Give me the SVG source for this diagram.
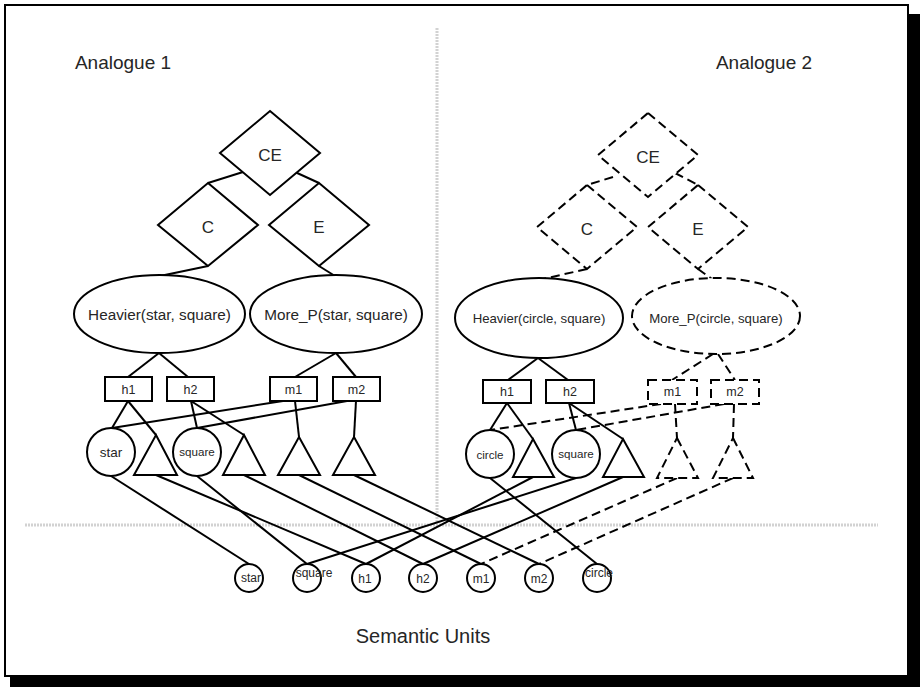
<svg xmlns="http://www.w3.org/2000/svg" width="920" height="687" viewBox="0 0 920 687">
  <style>
    .ln { fill: none; stroke: #000; stroke-width: 2; }
    .sh { fill: #fff; stroke: #000; stroke-width: 2; }
    .dash { stroke-dasharray: 9 5; }
    .sep { stroke: #d2d2d2; stroke-width: 3; stroke-dasharray: 2 1; fill: none; }
    text { font-family: "Liberation Sans", Arial, sans-serif; fill: #262626; text-anchor: middle; }
    .title { font-size: 19px; }
    .dia { font-size: 17px; }
    .rel { font-size: 15.3px; }
    .rel2 { font-size: 13.2px; }
    .box { font-size: 12.5px; }
    .obj { font-size: 13.5px; }
    .objs { font-size: 11.6px; }
    .unit { font-size: 12px; }
  </style>

  <!-- frame with drop shadow -->
  <rect x="10" y="14" width="910" height="673" fill="#000"/>
  <rect x="5" y="5" width="903" height="671" fill="#fff" stroke="#000" stroke-width="2"/>

  <!-- region separators -->
  <line class="sep" x1="437" y1="28" x2="437" y2="522"/>
  <line class="sep" x1="25" y1="525" x2="878" y2="525"/>

  <text class="title" x="123" y="69">Analogue 1</text>
  <text class="title" x="764" y="69">Analogue 2</text>
  <text class="title" x="423" y="643" style="font-size:20px">Semantic Units</text>

  <g id="connectors">
    <!-- analogue 1 -->
    <line class="ln" x1="243" y1="172" x2="208" y2="183"/>
    <line class="ln" x1="295" y1="172" x2="319" y2="183"/>
    <line class="ln" x1="208" y1="266" x2="160" y2="276"/>
    <line class="ln" x1="319" y1="266" x2="335" y2="276"/>
    <line class="ln" x1="159" y1="353" x2="128" y2="377"/>
    <line class="ln" x1="159" y1="353" x2="188" y2="377"/>
    <line class="ln" x1="336" y1="353" x2="295" y2="377"/>
    <line class="ln" x1="336" y1="353" x2="356" y2="377"/>
    <line class="ln" x1="128" y1="401" x2="112" y2="428"/>
    <line class="ln" x1="128" y1="401" x2="156" y2="435"/>
    <line class="ln" x1="191" y1="401" x2="197" y2="428"/>
    <line class="ln" x1="191" y1="401" x2="244" y2="435"/>
    <line class="ln" x1="283" y1="401" x2="112" y2="428"/>
    <line class="ln" x1="295" y1="401" x2="299" y2="437"/>
    <line class="ln" x1="347" y1="401" x2="197" y2="428"/>
    <line class="ln" x1="356" y1="401" x2="354" y2="437"/>
    <!-- analogue 2 -->
    <line class="ln dash" x1="613" y1="177" x2="587" y2="185"/>
    <line class="ln dash" x1="675" y1="173" x2="698" y2="185"/>
    <line class="ln dash" x1="587" y1="269" x2="543" y2="279"/>
    <line class="ln dash" x1="698" y1="269" x2="712" y2="279"/>
    <line class="ln" x1="538" y1="358" x2="508" y2="380"/>
    <line class="ln" x1="538" y1="358" x2="568" y2="380"/>
    <line class="ln dash" x1="713" y1="354" x2="672" y2="380"/>
    <line class="ln dash" x1="718" y1="354" x2="735" y2="380"/>
    <line class="ln" x1="507" y1="403" x2="490" y2="430"/>
    <line class="ln" x1="507" y1="403" x2="533" y2="439"/>
    <line class="ln" x1="569" y1="403" x2="576" y2="430"/>
    <line class="ln" x1="569" y1="403" x2="623" y2="439"/>
    <line class="ln dash" x1="661" y1="404" x2="490" y2="430"/>
    <line class="ln dash" x1="724" y1="404" x2="576" y2="430"/>
    <line class="ln dash" x1="675" y1="404" x2="677" y2="438"/>
    <line class="ln dash" x1="734" y1="404" x2="733" y2="438"/>
    <!-- links down to the semantic units -->
    <line class="ln" x1="111" y1="476" x2="249" y2="564"/>
    <line class="ln" x1="197" y1="476" x2="307" y2="564"/>
    <line class="ln" x1="156" y1="475" x2="366" y2="564"/>
    <line class="ln" x1="244" y1="475" x2="423" y2="564"/>
    <line class="ln" x1="299" y1="475" x2="481" y2="564"/>
    <line class="ln" x1="354" y1="475" x2="539" y2="564"/>
    <line class="ln" x1="490" y1="478" x2="597" y2="564"/>
    <line class="ln" x1="576" y1="478" x2="307" y2="564"/>
    <line class="ln" x1="533" y1="477" x2="366" y2="564"/>
    <line class="ln" x1="623" y1="477" x2="423" y2="564"/>
    <line class="ln dash" x1="677" y1="478" x2="481" y2="564"/>
    <line class="ln dash" x1="733" y1="478" x2="539" y2="564"/>
  </g>

  <!-- analogue 1 nodes -->
  <g id="a1-ce"><polygon class="sh" points="270,111 320,153 270,195 220,153"/><text class="dia" x="270" y="161">CE</text></g>
  <g id="a1-c"><polygon class="sh" points="208,183 258,225 208,266 158,225"/><text class="dia" x="208" y="233">C</text></g>
  <g id="a1-e"><polygon class="sh" points="319,183 369,225 319,266 269,225"/><text class="dia" x="319" y="233">E</text></g>
  <g id="a1-heavier"><ellipse class="sh" cx="159.5" cy="314" rx="85.5" ry="39"/><text class="rel" x="159.5" y="320">Heavier(star, square)</text></g>
  <g id="a1-morep"><ellipse class="sh" cx="336" cy="314" rx="86" ry="39"/><text class="rel" x="336" y="320">More_P(star, square)</text></g>
  <g id="a1-h1"><rect class="sh" x="105" y="377" width="47" height="24"/><text class="box" x="128.5" y="394">h1</text></g>
  <g id="a1-h2"><rect class="sh" x="167" y="377" width="47" height="24"/><text class="box" x="190.5" y="394">h2</text></g>
  <g id="a1-m1"><rect class="sh" x="270" y="377" width="47" height="24"/><text class="box" x="293.5" y="394">m1</text></g>
  <g id="a1-m2"><rect class="sh" x="333" y="377" width="47" height="24"/><text class="box" x="356.5" y="394">m2</text></g>
  <g id="a1-star"><circle class="sh" cx="111" cy="452" r="24"/><text class="obj" x="111" y="457">star</text></g>
  <g id="a1-t1"><polygon class="sh" points="156,435 177,475 134,475"/></g>
  <g id="a1-square"><circle class="sh" cx="197" cy="452" r="24"/><text class="objs" x="197" y="456">square</text></g>
  <g id="a1-t2"><polygon class="sh" points="244,435 265,475 223,475"/></g>
  <g id="a1-t3"><polygon class="sh" points="299,437 320,475 278,475"/></g>
  <g id="a1-t4"><polygon class="sh" points="354,437 375,475 333,475"/></g>

  <!-- analogue 2 nodes -->
  <g id="a2-ce"><polygon class="sh dash" points="648,113 698,155 648,197 598,155"/><text class="dia" x="648" y="163">CE</text></g>
  <g id="a2-c"><polygon class="sh dash" points="587,185 637,227 587,269 537,227"/><text class="dia" x="587" y="235">C</text></g>
  <g id="a2-e"><polygon class="sh dash" points="698,185 748,227 698,269 648,227"/><text class="dia" x="698" y="235">E</text></g>
  <g id="a2-heavier"><ellipse class="sh" cx="539" cy="318" rx="84" ry="40"/><text class="rel2" x="539" y="323">Heavier(circle, square)</text></g>
  <g id="a2-morep"><ellipse class="sh dash" cx="716" cy="316" rx="84" ry="38"/><text class="rel2" x="716" y="323">More_P(circle, square)</text></g>
  <g id="a2-h1"><rect class="sh" x="483" y="380" width="48" height="23"/><text class="box" x="507" y="396">h1</text></g>
  <g id="a2-h2"><rect class="sh" x="546" y="380" width="48" height="23"/><text class="box" x="570" y="396">h2</text></g>
  <g id="a2-m1"><rect class="sh dash" x="648" y="380" width="49" height="24"/><text class="box" x="672.5" y="396">m1</text></g>
  <g id="a2-m2"><rect class="sh dash" x="711" y="380" width="48" height="24"/><text class="box" x="735" y="396">m2</text></g>
  <g id="a2-circle"><circle class="sh" cx="490" cy="454" r="24"/><text class="objs" x="490" y="459">circle</text></g>
  <g id="a2-ta"><polygon class="sh" points="533,439 554,477 513,477"/></g>
  <g id="a2-square"><circle class="sh" cx="576" cy="454" r="24"/><text class="objs" x="576" y="458">square</text></g>
  <g id="a2-tb"><polygon class="sh" points="623,439 644,477 603,477"/></g>
  <g id="a2-tc"><polygon class="sh dash" points="677,438 698,478 657,478"/></g>
  <g id="a2-td"><polygon class="sh dash" points="733,438 753,478 713,478"/></g>

  <!-- semantic units -->
  <g id="u-star"><circle class="sh" cx="249" cy="578" r="14"/><text class="unit" x="251" y="582">star</text></g>
  <g id="u-square"><circle class="sh" cx="307" cy="578" r="14"/><text class="unit" x="314" y="577">square</text></g>
  <g id="u-h1"><circle class="sh" cx="366" cy="578" r="14"/><text class="unit" x="365" y="583">h1</text></g>
  <g id="u-h2"><circle class="sh" cx="423" cy="578" r="14"/><text class="unit" x="423" y="583">h2</text></g>
  <g id="u-m1"><circle class="sh" cx="481" cy="578" r="14"/><text class="unit" x="481" y="583">m1</text></g>
  <g id="u-m2"><circle class="sh" cx="539" cy="578" r="14"/><text class="unit" x="539" y="583">m2</text></g>
  <g id="u-circle"><circle class="sh" cx="597" cy="578" r="14"/><text class="unit" x="599" y="577">circle</text></g>
</svg>
